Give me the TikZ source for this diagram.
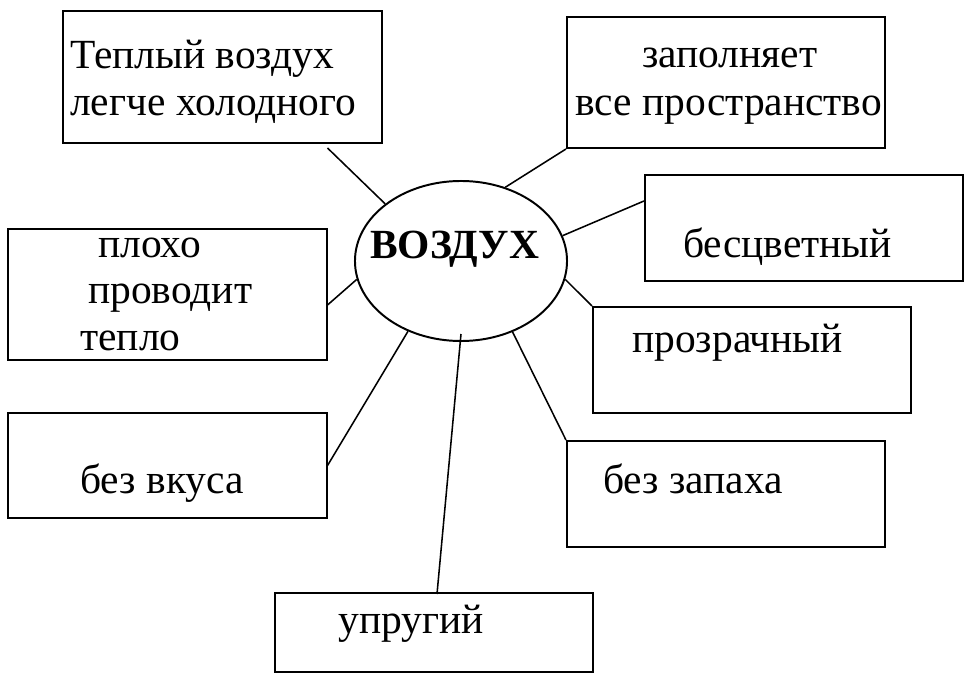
\documentclass[tikz,border=0pt]{standalone}
\usepackage{fontspec}
\setmainfont{Liberation Serif}
\usepackage{tikz}
\usetikzlibrary{positioning, calc, shapes.geometric}
\tikzset{
    box/.style={rectangle, draw=black, line width=1.4pt, minimum width=7.95cm, minimum height=2.65cm, inner sep=0pt},
    txt/.style={anchor=base west, inner sep=0pt, font=\fontsize{29.5}{34}\selectfont},
    link/.style={line width=1.1pt}
}
\begin{document}
\begin{tikzpicture}[x=0.025cm, y=-0.025cm]
  \fill[white] (0,0) rectangle (976,684);

  \node[ellipse, draw=black, line width=1.4pt, minimum width=5.3cm, minimum height=4cm, inner sep=0pt] (air) at (461,261) {};
  \node[txt, font=\fontsize{29.5}{34}\selectfont\bfseries] (airt) at (370,258) {ВОЗДУХ};

  \node[box, minimum height=3.3cm]   (warm)      at (222.5,77)  {};
  \node[box, minimum height=3.275cm] (fills)     at (726,82.5)  {};
  \node[box]                         (colorless) at (804,228)   {};
  \node[box, minimum height=3.275cm] (heat)      at (167.5,294.5) {};
  \node[box]                         (clear)     at (752,360)   {};
  \node[box, minimum height=2.625cm] (taste)     at (167.5,465.5) {};
  \node[box]                         (smell)     at (726,494)   {};
  \node[box, minimum height=1.975cm] (elastic)   at (434,632.5) {};

  \node[txt] (warm1)  at (70,68)   {Теплый воздух};
  \node[txt] (warm2)  at (70,115)  {легче холодного};
  \node[txt] (fills1) at (642,67)  {заполняет};
  \node[txt] (fills2) at (575,115) {все пространство};
  \node[txt] (colorlesst) at (683,257) {бесцветный};
  \node[txt] (cleart) at (632,352) {прозрачный};
  \node[txt] (heat1)  at (98,257)  {плохо};
  \node[txt] (heat2)  at (88,303)  {проводит};
  \node[txt] (heat3)  at (80,350)  {тепло};
  \node[txt] (tastet) at (80,493)  {без вкуса};
  \node[txt] (smellt) at (603,493) {без запаха};
  \node[txt] (elastict) at (338,633) {упругий};

  \draw[link] ($(warm.south)+(105,4)$) -- (air.143);
  \draw[link] (fills.south west) -- (air.59);
  \draw[link] ($(colorless.west)+(0,-27)$) -- (air.14);
  \draw[link] ($(heat.east)+(0,10.5)$) -- (air.190);
  \draw[link] (clear.north west) -- (air.-10);
  \draw[link] (taste.east) -- (air.233);
  \draw[link] (smell.north west) -- (air.-54);
  \draw[link] ($(elastic.north)+(3,2)$) -- ($(air.south)+(0,-8)$);
\end{tikzpicture}
\end{document}
